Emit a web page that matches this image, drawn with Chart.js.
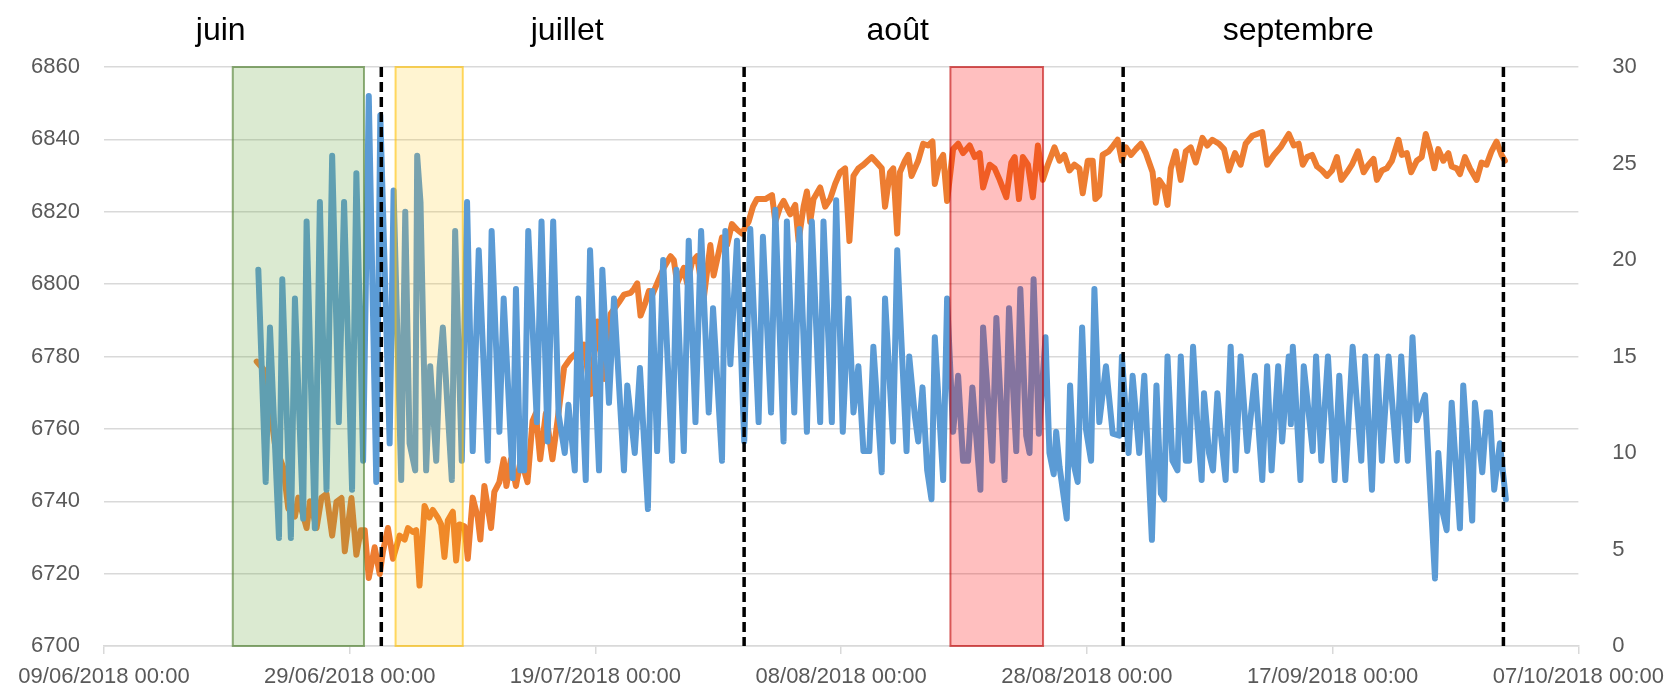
<!DOCTYPE html>
<html>
<head>
<meta charset="utf-8">
<script src="https://cdn.jsdelivr.net/npm/chart.js@4.4.1/dist/chart.umd.min.js"></script>
<style>
  body { margin: 0; background: #fff; }
  #chart-container { width: 1674px; height: 690px; position: relative; }
</style>
</head>
<body>
<div id="chart-container"><canvas id="myChart" width="1674" height="690"></canvas></div>
<script>
// x values are days since 09/06/2018 00:00
const startDate = Date.UTC(2018, 5, 9);
const xMin = 0, xMax = 120, xStep = 20;
const leftTicks = { min: 6700, max: 6860, step: 20 };
const rightTicks = { min: 0, max: 30, step: 5 };

// blue series (right axis)
const blueDay = [12.56,13.16,13.51,14.24,14.51,15.21,15.54,16.21,16.49,17.16,17.57,18.11,18.57,19.11,19.54,20.19,20.54,21.09,21.55,
  22.16,22.49,23.25,23.57,24.19,24.52,24.87,25.33,25.49,25.76,26.22,26.55,27.04,27.31,27.58,28.31,28.58,29.12,29.55,30.01,30.50,31.23,31.55,32.18,32.53,
  33.26,33.53,33.88,34.20,34.53,35.23,35.61,36.10,36.56,37.00,37.50,37.80,38.32,38.59,39.21,39.56,40.29,40.56,41.10,41.51,42.32,42.59,43.20,
  43.62,44.27,44.62,45.02,45.51,46.24,46.59,47.19,47.59,48.14,48.60,49.22,49.57,50.30,50.57,50.98,51.52,52.11,52.60,53.28,53.63,
  54.29,54.64,55.31,55.58,56.18,56.61,57.21,57.61,58.29,58.56,59.24,59.59,60.13,60.59,61.00,61.40,61.81,62.29,62.62,63.30,63.57,64.22,
  64.56,65.32,65.54,66.00,66.27,66.62,67.00,67.35,67.62,68.30,68.62,69.11,69.52,69.92,70.33,70.68,71.33,71.55,72.30,72.63,73.30,73.66,74.25,74.58,
  75.06,75.33,75.66,76.09,76.63,76.95,77.30,77.50,77.77,78.36,78.63,78.93,79.25,79.61,79.93,80.34,80.61,81.01,81.55,82.10,82.64,82.85,83.39,83.72,84.26,84.67,85.29,
  85.66,86.02,86.29,86.56,86.96,87.37,87.64,88.05,88.32,88.64,88.99,89.34,89.53,89.94,90.26,90.62,90.90,91.29,91.70,92.10,92.51,93.05,93.67,94.27,94.67,95.03,95.57,95.89,
  96.43,96.60,96.76,97.38,97.65,98.38,98.65,99.08,99.62,100.16,100.54,101.03,101.63,102.33,102.65,103.20,103.60,104.01,104.55,105.22,105.58,106.12,106.50,
  106.85,107.52,108.33,108.60,108.93,109.28,109.69,110.36,110.63,111.36,111.58,112.18,112.53,112.80,113.15,113.61,114.10];
const blueVal = [19.5,8.5,16.5,5.6,19.0,5.6,18.0,6.6,22.0,6.1,23.0,8.1,25.4,11.6,23.0,8.1,24.5,9.6,28.5,
  8.5,27.5,10.5,23.6,8.6,22.5,10.5,9.1,25.4,23.0,9.1,14.5,9.6,14.4,16.5,8.6,21.5,9.6,23.0,10.1,20.5,9.6,21.5,11.1,18.0,
  8.7,18.5,9.1,9.1,21.5,11.6,22.0,10.6,22.0,12.0,10.0,12.5,9.1,18.0,8.6,20.5,9.1,19.5,12.6,18.0,9.1,13.5,10.0,
  14.4,7.1,18.4,10.1,20.0,9.6,19.5,10.1,21.0,11.6,21.5,12.1,17.5,9.6,21.5,14.6,21.0,10.6,21.6,11.6,21.2,
  12.1,22.6,10.6,22.0,12.1,21.6,11.1,22.0,11.6,22.0,11.6,23.1,11.1,18.0,12.1,14.5,10.1,10.1,15.5,9.0,18.0,10.6,
  20.5,10.1,15.0,11.9,10.6,13.4,9.1,7.6,16.0,8.6,18.0,11.1,14.0,9.6,9.6,13.4,8.1,16.5,9.6,17.0,8.6,17.5,10.1,18.5,
  10.9,10.0,19.0,11.0,16.0,10.0,8.9,11.1,9.3,6.6,13.5,9.4,8.5,16.5,11.2,9.6,18.5,11.6,14.5,11.0,10.9,15.0,10.0,14.0,10.0,14.0,5.5,
  13.5,7.9,7.6,15.0,9.6,9.1,15.0,9.6,9.6,15.5,11.5,8.6,13.1,10.0,9.1,13.1,11.0,8.6,15.5,9.1,15.0,10.1,14.0,8.6,14.5,9.1,14.5,10.6,
  15.0,11.5,15.5,8.6,14.5,10.1,15.0,9.6,15.0,8.6,14.0,8.6,15.5,9.6,15.0,8.1,15.0,9.6,15.0,9.6,15.0,9.6,16.0,
  11.7,13.0,3.5,10.0,7.0,6.0,12.6,6.1,13.5,6.5,12.6,9.0,12.1,12.1,8.1,10.5,7.6];

// orange series (left axis)
const orangeDay = [12.43,13.10,13.92,14.59,15.00,15.54,15.81,16.49,16.76,17.30,17.70,18.11,18.57,18.92,19.33,19.60,20.14,20.54,20.90,21.22,21.55,
  22.03,22.44,22.71,23.11,23.52,24.06,24.47,24.74,25.14,25.41,25.68,26.09,26.49,26.76,27.17,27.44,27.71,27.98,28.39,28.66,28.93,29.34,29.61,30.01,30.42,30.63,30.96,31.50,31.77,32.18,32.53,
  32.75,33.12,33.53,33.93,34.47,34.88,35.15,35.50,35.96,36.50,36.91,37.45,37.99,38.53,39.07,39.61,40.16,40.70,41.24,41.91,42.32,42.86,43.13,
  43.40,43.67,44.08,44.35,44.62,45.02,45.56,46.11,46.38,46.65,47.19,47.46,47.86,48.27,48.81,49.35,49.62,50.30,50.71,51.11,51.52,51.92,52.46,52.82,53.14,
  53.83,54.37,54.64,55.04,55.31,55.85,56.26,56.53,56.94,57.21,57.48,57.75,58.29,58.70,59.10,59.51,59.91,60.32,60.67,61.00,61.40,61.81,62.48,62.89,63.30,63.57,63.97,64.24,
  64.56,64.78,65.19,65.46,65.73,66.27,66.67,67.08,67.43,67.62,68.03,68.30,68.62,69.11,69.52,69.92,70.46,70.87,71.27,71.55,72.09,72.49,72.90,73.44,73.85,74.12,74.47,74.79,
  75.20,75.60,76.01,76.41,76.82,77.36,77.77,78.17,78.58,78.98,79.39,79.66,80.07,80.47,80.69,81.01,81.28,81.77,82.15,82.50,82.85,83.18,83.58,83.99,84.40,84.80,85.34,
  85.61,85.88,86.29,86.56,86.83,87.23,87.64,88.05,88.45,88.86,89.40,89.80,90.21,90.75,91.16,91.56,92.05,92.51,92.92,93.46,93.86,94.27,94.67,95.22,95.76,
  96.43,96.84,97.24,97.57,97.92,98.33,98.73,99.14,99.54,99.95,100.35,100.71,101.17,101.57,102.06,102.52,102.92,103.33,103.60,104.01,104.41,104.82,105.36,105.63,106.04,106.39,
  106.85,107.25,107.58,107.93,108.28,108.60,109.01,109.42,109.69,110.09,110.36,110.77,111.17,111.72,112.12,112.53,112.93,113.34,113.75,114.02];
const orangeVal = [6778.6,6776.0,6755.6,6749.3,6738.0,6735.8,6741.0,6732.6,6740.0,6732.6,6741.0,6742.0,6730.5,6739.8,6740.9,6726.2,6740.9,6725.2,6732.0,6732.0,6718.8,
  6727.3,6719.9,6726.2,6732.6,6724.1,6730.5,6729.4,6732.6,6731.5,6732.0,6716.7,6738.7,6735.5,6737.6,6735.5,6733.6,6724.6,6734.7,6737.1,6723.6,6733.6,6733.1,6724.1,6741.0,6735.5,6729.4,6744.2,6732.6,6742.6,6745.3,6751.6,
  6744.2,6751.6,6744.2,6751.6,6745.3,6762.2,6764.3,6751.6,6764.3,6751.6,6762.2,6777.0,6779.6,6781.2,6783.3,6769.6,6789.7,6773.8,6791.8,6795.0,6797.1,6797.6,6798.7,
  6800.2,6791.3,6795.0,6798.1,6797.0,6800.2,6804.5,6807.7,6806.6,6800.2,6804.5,6800.2,6806.1,6807.7,6796.0,6810.8,6802.4,6812.9,6810.8,6816.6,6815.1,6814.0,6817.2,6821.4,6823.5,
  6823.5,6824.6,6817.2,6821.4,6823.0,6819.3,6821.9,6811.9,6821.4,6825.6,6817.2,6823.5,6826.7,6821.4,6823.5,6827.7,6830.9,6832.0,6811.9,6829.9,6832.0,6833.0,6835.1,6833.6,6832.0,6821.4,6830.9,6832.0,
  6814.0,6830.9,6834.1,6835.7,6829.9,6834.1,6838.8,6838.3,6839.4,6827.7,6834.1,6835.7,6823.0,6837.3,6838.8,6836.2,6838.3,6835.1,6836.2,6826.7,6833.0,6832.0,6828.8,6824.0,6833.6,6835.1,6823.5,6835.1,
  6833.0,6824.0,6838.3,6828.8,6833.0,6837.8,6834.1,6835.7,6831.4,6833.0,6832.0,6825.1,6834.1,6834.1,6823.5,6824.6,6835.7,6836.7,6838.3,6839.9,6834.1,6837.8,6835.7,6837.3,6838.8,6836.2,6831.0,
  6822.5,6828.8,6826.7,6821.9,6832.0,6836.7,6828.8,6836.7,6837.8,6833.6,6840.4,6838.3,6839.9,6838.8,6837.3,6831.4,6836.2,6833.0,6838.8,6841.0,6841.5,6842.0,6833.0,6835.7,6837.8,
  6841.5,6838.3,6838.8,6833.0,6835.1,6835.7,6832.5,6831.4,6829.9,6831.4,6835.1,6828.8,6830.9,6833.0,6836.7,6830.9,6833.0,6834.6,6828.8,6831.4,6832.0,6834.1,6839.9,6835.7,6836.2,6830.9,
  6834.1,6835.1,6841.5,6837.3,6832.0,6837.3,6834.1,6836.2,6832.5,6832.0,6830.4,6835.1,6832.0,6828.8,6833.6,6833.0,6836.7,6839.4,6835.7,6834.1];

// highlighted periods and month separators (days)
const periodStart = [10.48, 23.73, 68.89];
const periodEnd = [21.16, 29.20, 76.43];
const periodFill = ['rgba(112,173,71,0.25)', 'rgba(255,192,0,0.18)', 'rgba(255,0,0,0.25)'];
const periodBorder = ['rgba(84,130,53,0.65)', 'rgba(255,192,0,0.6)', 'rgba(192,0,0,0.6)'];
const monthBreaks = [22.57, 52.10, 82.95, 113.9];
const monthNames = ['juin', 'juillet', 'août', 'septembre'];
const monthLabelDays = [9.5, 37.7, 64.6, 97.2];

function pad2(n) { return (n < 10 ? '0' : '') + n; }
function formatDay(v) {
    const d = new Date(startDate + v * 86400000);
    return pad2(d.getUTCDate()) + '/' + pad2(d.getUTCMonth() + 1) + '/' + d.getUTCFullYear() + ' 00:00';
}

const overlay = {
    id: 'overlay',
    afterDatasetsDraw(chart) {
        const { ctx, chartArea } = chart;
        const x = chart.scales.x;
        const h = chartArea.bottom - chartArea.top;
        ctx.save();
        periodStart.forEach((s, i) => {
            const x0 = x.getPixelForValue(s);
            const x1 = x.getPixelForValue(periodEnd[i]);
            ctx.fillStyle = periodFill[i];
            ctx.fillRect(x0, chartArea.top, x1 - x0, h);
            ctx.strokeStyle = periodBorder[i];
            ctx.lineWidth = 2;
            ctx.strokeRect(x0, chartArea.top, x1 - x0, h);
        });
        ctx.strokeStyle = '#000';
        ctx.lineWidth = 3.5;
        ctx.setLineDash([10, 5]);
        monthBreaks.forEach(d => {
            const px = x.getPixelForValue(d);
            ctx.beginPath();
            ctx.moveTo(px, chartArea.top);
            ctx.lineTo(px, chartArea.bottom);
            ctx.stroke();
        });
        ctx.setLineDash([]);
        ctx.fillStyle = '#000';
        ctx.font = '32px "Liberation Sans", Arial, sans-serif';
        ctx.textAlign = 'center';
        ctx.textBaseline = 'middle';
        monthNames.forEach((m, i) => {
            ctx.fillText(m, x.getPixelForValue(monthLabelDays[i]), 31);
        });
        ctx.restore();
    }
};

Chart.defaults.font.family = '"Liberation Sans", Arial, sans-serif';
Chart.defaults.color = '#595959';

const ctx = document.getElementById('myChart').getContext('2d');
const myChart = new Chart(ctx, {
    type: 'line',
    data: {
        datasets: [
            {
                label: 'bleu',
                data: blueDay.map((d, i) => ({ x: d, y: blueVal[i] })),
                yAxisID: 'y1',
                borderColor: '#5B9BD5',
                borderWidth: 6,
                pointRadius: 0,
                tension: 0,
                borderJoinStyle: 'round',
                borderCapStyle: 'round'
            },
            {
                label: 'orange',
                data: orangeDay.map((d, i) => ({ x: d, y: orangeVal[i] })),
                yAxisID: 'y',
                borderColor: '#ED7D31',
                borderWidth: 6,
                pointRadius: 0,
                tension: 0,
                borderJoinStyle: 'round',
                borderCapStyle: 'round'
            }
        ]
    },
    options: {
        responsive: false,
        animation: false,
        devicePixelRatio: 1,
        layout: { padding: { top: 67, left: 0, right: 0, bottom: 0 } },
        plugins: {
            legend: { display: false },
            tooltip: { enabled: false }
        },
        scales: {
            x: {
                type: 'linear',
                min: xMin,
                max: xMax,
                afterFit: s => { s.height = 44; },
                ticks: {
                    stepSize: xStep,
                    maxRotation: 0,
                    autoSkip: false,
                    padding: 10,
                    font: { size: 22 },
                    callback: v => formatDay(v)
                },
                grid: { drawOnChartArea: false, drawTicks: true, tickLength: 8, color: '#d9d9d9', lineWidth: 1.5 },
                border: { display: true, color: '#d9d9d9', width: 1.5 }
            },
            y: {
                position: 'left',
                min: leftTicks.min,
                max: leftTicks.max,
                afterFit: s => { s.width = 104; },
                ticks: { stepSize: leftTicks.step, padding: 24, font: { size: 22 }, callback: v => String(v) },
                grid: { color: '#d9d9d9', lineWidth: 1.5, drawTicks: false },
                border: { display: false }
            },
            y1: {
                position: 'right',
                min: rightTicks.min,
                max: rightTicks.max,
                afterFit: s => { s.width = 93; },
                ticks: { stepSize: rightTicks.step, padding: 26, font: { size: 22 }, callback: v => String(v) },
                grid: { display: false, drawOnChartArea: false },
                border: { display: false }
            }
        }
    },
    plugins: [overlay]
});
</script>
</body>
</html>
